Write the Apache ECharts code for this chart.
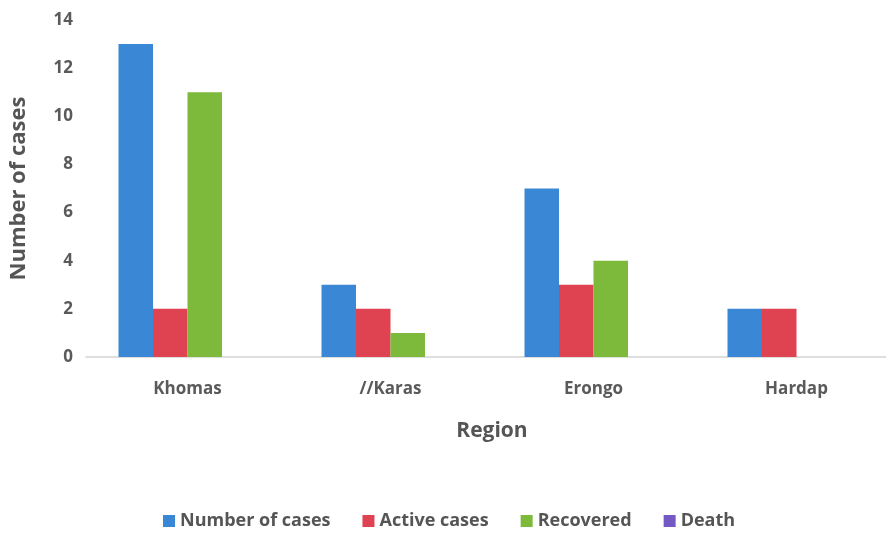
<!DOCTYPE html>
<html>
<head>
<meta charset="utf-8">
<script src="https://cdn.jsdelivr.net/npm/echarts@6/dist/echarts.min.js"></script>
<style>
  html, body { margin: 0; padding: 0; background: #ffffff; overflow: hidden; }
  #chart { width: 898px; height: 533px; }
</style>
</head>
<body>
<div id="chart"></div>
<script>
// Cases by region
const regions = ['Khomas', '//Karas', 'Erongo', 'Hardap'];
const numberOfCases = [13, 3, 7, 2];
const activeCases = [2, 2, 3, 2];
const recovered = [11, 1, 4, 0];
const death = [0, 0, 0, 0];
const yTicks = { min: 0, max: 14, interval: 2 };

const seriesDefs = [
  { name: 'Number of cases', data: numberOfCases, color: '#3a87d6' },
  { name: 'Active cases', data: activeCases, color: '#df4250' },
  { name: 'Recovered', data: recovered, color: '#7dba3b' },
  { name: 'Death', data: death, color: '#7458c4' }
];

const font = '"Open Sans", "Liberation Sans", sans-serif';
const chart = echarts.init(document.getElementById('chart'), null, { renderer: 'canvas' });

chart.setOption({
  backgroundColor: '#ffffff',
  animation: false,
  textStyle: { fontFamily: font },
  grid: { left: 80, right: 0, top: 20, bottom: 176, containLabel: false },
  legend: {
    top: 507,
    left: 158,
    itemWidth: 12,
    itemHeight: 12,
    itemGap: 32,
    icon: 'rect',
    textStyle: { fontFamily: font, fontSize: 18, color: '#555555', fontWeight: 'bold' },
    data: seriesDefs.map(s => s.name)
  },
  xAxis: {
    type: 'category',
    data: regions,
    name: 'Region',
    nameLocation: 'middle',
    nameGap: 64,
    nameTextStyle: { fontFamily: font, fontSize: 21, fontWeight: 'bold', color: '#555555' },
    axisLine: { lineStyle: { color: '#d4d4d4', width: 1.5 } },
    axisTick: { show: false },
    axisLabel: { margin: 24, fontSize: 17, fontWeight: 'bold', color: '#5a5a5a', fontFamily: font }
  },
  yAxis: {
    type: 'value',
    min: yTicks.min,
    max: yTicks.max,
    interval: yTicks.interval,
    name: 'Number of cases',
    nameLocation: 'middle',
    nameGap: 56,
    nameTextStyle: { fontFamily: font, fontSize: 22, fontWeight: 'bold', color: '#555555' },
    axisLine: { show: false },
    axisTick: { show: false },
    splitLine: { show: false },
    axisLabel: { margin: 13, fontSize: 17, fontWeight: 'bold', color: '#5a5a5a', fontFamily: font }
  },
  series: seriesDefs.map(s => ({
    name: s.name,
    type: 'bar',
    data: s.data,
    barWidth: 34.5,
    barGap: '0%',
    itemStyle: { color: s.color }
  }))
});
</script>
</body>
</html>
